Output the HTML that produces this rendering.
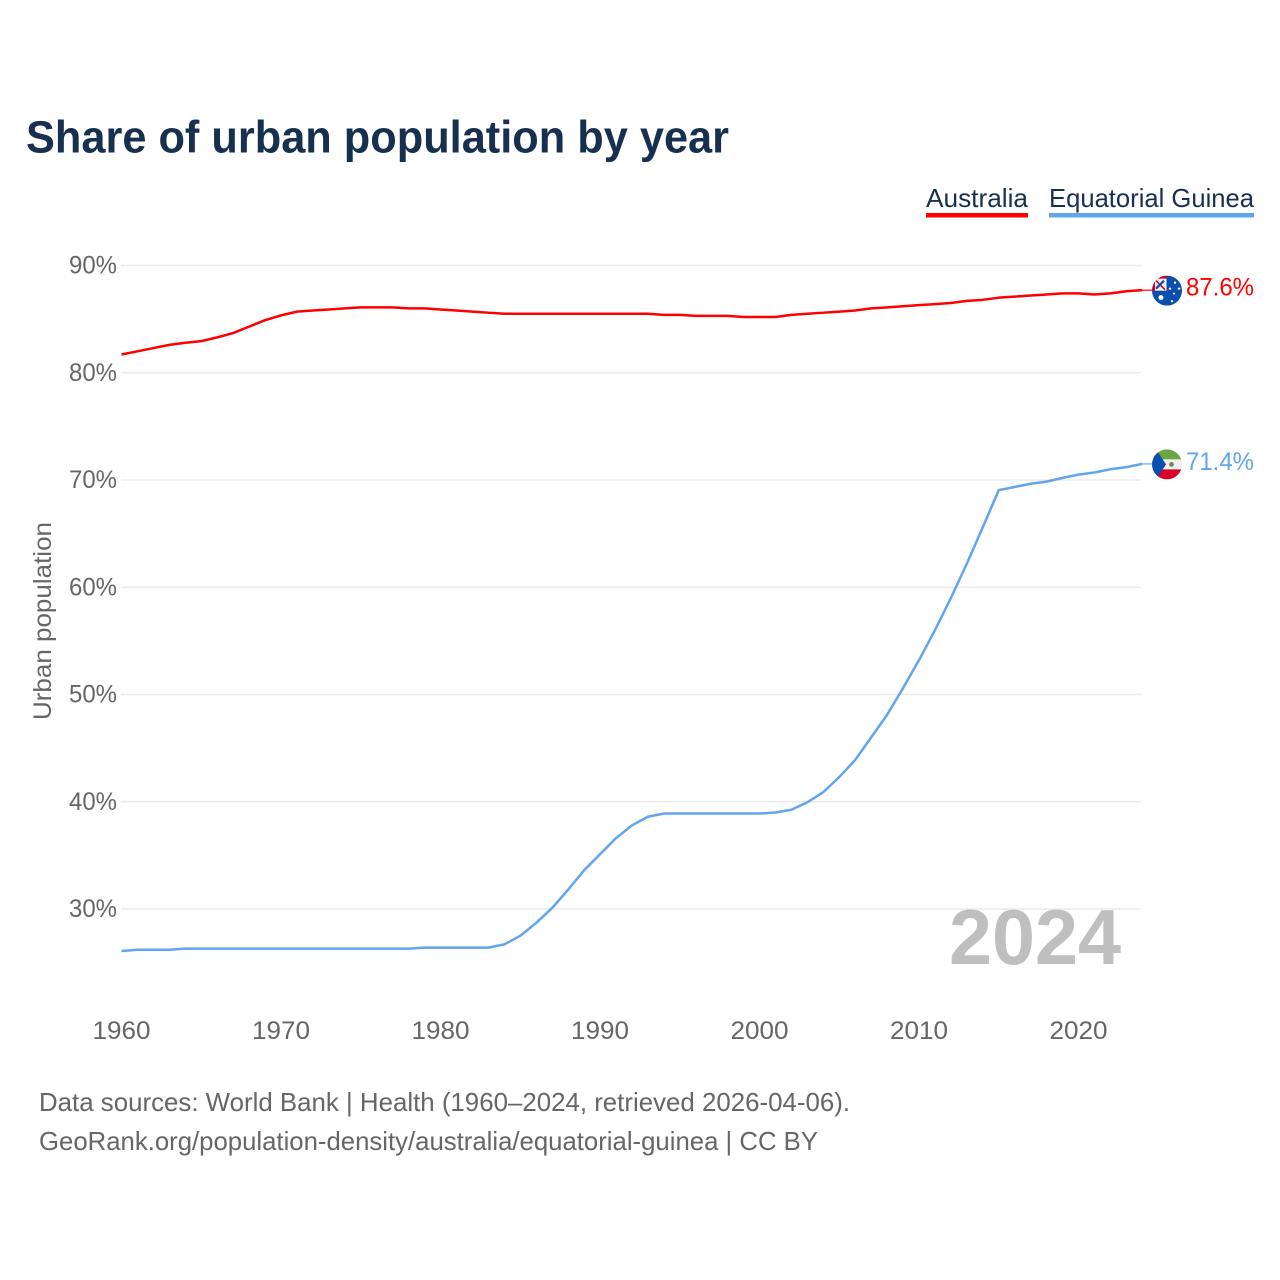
<!DOCTYPE html>
<html lang="en">
<head>
<meta charset="utf-8">
<title>Share of urban population by year</title>
<style>
html,body{margin:0;padding:0;background:#fff;width:1280px;height:1280px;overflow:hidden}
svg{display:block}
text{font-family:"Liberation Sans",sans-serif}
</style>
</head>
<body>
<svg id="chart" xmlns="http://www.w3.org/2000/svg" width="1280" height="1280" viewBox="0 0 1280 1280">
  <defs>
    <clipPath id="flag-clip-a"><circle cx="0" cy="0" r="15"></circle></clipPath>
    <clipPath id="flag-clip-b"><circle cx="0" cy="0" r="15"></circle></clipPath>
  </defs>
  <rect x="0" y="0" width="1280" height="1280" fill="#fff"></rect>
  <text x="26" y="152.5" font-size="45" font-weight="700" fill="#18304f" textLength="703" lengthAdjust="spacingAndGlyphs">Share of urban population by year</text>

  <g>
    <text x="926" y="207" font-size="26" fill="#18304f" textLength="102" lengthAdjust="spacingAndGlyphs">Australia</text>
    <rect x="926" y="213" width="102" height="4.5" fill="#ff0000"></rect>
  </g>
  <g>
    <text x="1049" y="207" font-size="26" fill="#18304f" textLength="205" lengthAdjust="spacingAndGlyphs">Equatorial Guinea</text>
    <rect x="1049" y="213" width="205" height="4.5" fill="#60a5ee"></rect>
  </g>

  <g id="grid"></g>
  <g id="yticks"></g>
  <g id="xticks"></g>
  <text transform="translate(51,720) rotate(-90)" font-size="25" fill="#666666" textLength="198" lengthAdjust="spacingAndGlyphs">Urban population</text>
  <text id="year-mark" x="949" y="964" font-size="78" font-weight="700" fill="#bfbfbf" textLength="172" lengthAdjust="spacingAndGlyphs">2024</text>
  <g id="series"></g>

  <g id="flag-au">
    <g clip-path="url(#flag-clip-a)">
      <rect x="-15" y="-15" width="30" height="30" fill="#0a4fb0"></rect>
      <rect x="-15" y="-15" width="14.5" height="15" fill="#d80027"></rect>
      <rect x="-12" y="-12" width="11.5" height="12" fill="#f4f4f4"></rect>
      <path d="M-11 -10L-2 -1" stroke="#d80027" stroke-width="1.6"></path>
      <path d="M-11 -2L-3 -10" stroke="#0a4fb0" stroke-width="2.4"></path>
      <circle cx="-6" cy="7" r="2.5" fill="#fff"></circle>
      <circle cx="3" cy="-2" r="1.2" fill="#fff"></circle>
      <circle cx="8" cy="-8" r="1.2" fill="#fff"></circle>
      <circle cx="12" cy="-2" r="1.2" fill="#fff"></circle>
      <circle cx="7" cy="3" r="1" fill="#fff"></circle>
      <circle cx="5" cy="10.5" r="1.2" fill="#fff"></circle>
    </g>
  </g>
  <g id="flag-gq">
    <g clip-path="url(#flag-clip-b)">
      <rect x="-15" y="-15" width="30" height="10" fill="#6da544"></rect>
      <rect x="-15" y="-5" width="30" height="10" fill="#f0f0f0"></rect>
      <rect x="-15" y="5" width="30" height="10" fill="#d80027"></rect>
      <path d="M-15 -16H-11.5L-1 0L-11.5 16H-15Z" fill="#0a4fb0"></path>
      <circle cx="4.5" cy="0" r="2.4" fill="#6f8a5a"></circle>
    </g>
  </g>
  <text id="label-au" x="1186" font-size="25" fill="#ff0000" textLength="68" lengthAdjust="spacingAndGlyphs"></text>
  <text id="label-gq" x="1186" font-size="25" fill="#60a5ee" textLength="68" lengthAdjust="spacingAndGlyphs"></text>

  <text x="39" y="1111" font-size="26" fill="#666666" textLength="811" lengthAdjust="spacingAndGlyphs">Data sources: World Bank | Health (1960–2024, retrieved 2026-04-06).</text>
  <text x="39" y="1150" font-size="26" fill="#666666" textLength="779" lengthAdjust="spacingAndGlyphs">GeoRank.org/population-density/australia/equatorial-guinea | CC BY</text>
</svg>
<script>
const startYear = 1960;
const yTickValues = [90, 80, 70, 60, 50, 40, 30];
const xTickYears = [1960, 1970, 1980, 1990, 2000, 2010, 2020];
const australia = [81.7,82.0,82.3,82.6,82.8,82.95,83.3,83.7,84.3,84.9,85.35,85.7,85.8,85.9,86.0,86.1,86.1,86.1,86.0,86.0,85.9,85.8,85.7,85.6,85.5,85.5,85.5,85.5,85.5,85.5,85.5,85.5,85.5,85.5,85.4,85.4,85.3,85.3,85.3,85.2,85.2,85.2,85.4,85.5,85.6,85.7,85.8,86.0,86.1,86.2,86.3,86.4,86.5,86.7,86.8,87.0,87.1,87.2,87.3,87.4,87.4,87.3,87.4,87.6,87.7];
const equatorialGuinea = [26.08,26.2,26.2,26.2,26.3,26.3,26.3,26.3,26.3,26.3,26.3,26.3,26.3,26.3,26.3,26.3,26.3,26.3,26.3,26.4,26.4,26.4,26.4,26.4,26.7,27.5,28.7,30.1,31.8,33.6,35.1,36.6,37.8,38.6,38.9,38.9,38.9,38.9,38.9,38.9,38.9,39.0,39.25,39.95,40.9,42.3,43.9,46.0,48.1,50.6,53.2,56.0,59.0,62.2,65.6,69.06,69.35,69.65,69.85,70.2,70.5,70.7,71.0,71.2,71.5];
const australiaLabel = "87.6%";
const equatorialGuineaLabel = "71.4%";

const NS = "http://www.w3.org/2000/svg";
function xScale(year) { return 121.5 + (year - 1960) * 15.95; }
function yScale(pct) { return 909 - (pct - 30) * 10.725; }
function make(tag, attrs, parent) {
  const el = document.createElementNS(NS, tag);
  Object.keys(attrs).forEach(function (k) { el.setAttribute(k, attrs[k]); });
  parent.appendChild(el);
  return el;
}

const gridGroup = document.getElementById("grid");
const yTickGroup = document.getElementById("yticks");
const xTickGroup = document.getElementById("xticks");
const seriesGroup = document.getElementById("series");

yTickValues.forEach(function (v) {
  const line = make("line", { x1: 121, x2: 1141, y1: yScale(v), y2: yScale(v), stroke: "#ebebeb", "stroke-width": 1.5 }, gridGroup);
  
  
  const label = make("text", { x: 117, y: yScale(v) + 8, "text-anchor": "end", "font-size": 25, fill: "#666666", textLength: 48, lengthAdjust: "spacingAndGlyphs" }, yTickGroup);
  
  
  label.textContent = v + "%";
});

xTickYears.forEach(function (yr) {
  const label = make("text", { x: xScale(yr), y: 1039, "text-anchor": "middle", "font-size": 25, fill: "#666666", textLength: 58, lengthAdjust: "spacingAndGlyphs" }, xTickGroup);
  
  
  label.textContent = yr;
});

function linePoints(values) {
  return values.map(function (v, i) {
    return xScale(startYear + i).toFixed(2) + "," + yScale(v).toFixed(2);
  }).join(" ");
}

const auLine = make("polyline", { points: linePoints(australia), fill: "none", stroke: "#ff0000", "stroke-width": 2.5, "stroke-linejoin": "round" }, seriesGroup);


const gqLine = make("polyline", { points: linePoints(equatorialGuinea), fill: "none", stroke: "#60a5ee", "stroke-width": 2.5, "stroke-linejoin": "round" }, seriesGroup);



const lastX = xScale(startYear + australia.length - 1);
const auY = yScale(australia[australia.length - 1]);
const gqY = yScale(equatorialGuinea[equatorialGuinea.length - 1]);

const auLead = make("line", { x1: lastX, x2: 1152, y1: auY, y2: auY, stroke: "#ff0000", "stroke-width": 1.2 }, seriesGroup);


const gqLead = make("line", { x1: lastX, x2: 1152, y1: gqY, y2: gqY, stroke: "#60a5ee", "stroke-width": 1.2 }, seriesGroup);



document.getElementById("flag-au").setAttribute("transform", "translate(1167," + (auY + 0.5) + ")");
document.getElementById("flag-gq").setAttribute("transform", "translate(1167," + (gqY + 0.5) + ")");
const auText = document.getElementById("label-au");
auText.setAttribute("y", auY + 5.5);
auText.textContent = australiaLabel;
const gqText = document.getElementById("label-gq");
gqText.setAttribute("y", gqY + 6);
gqText.textContent = equatorialGuineaLabel;
</script>
</body>
</html>
